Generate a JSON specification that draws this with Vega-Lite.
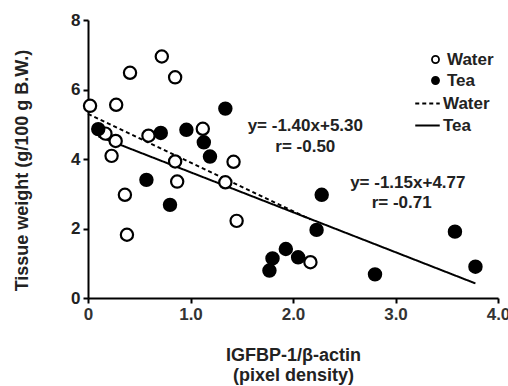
{
  "$schema": "https://vega.github.io/schema/vega-lite/v6.json",
  "width": 410,
  "height": 278,
  "autosize": {"type": "none"},
  "padding": {"left": 88, "top": 20, "right": 10, "bottom": 88},
  "background": "white",
  "config": {"view": {"stroke": null}, "font": "Liberation Sans"},
  "datasets": {
    "points": [
      {"sample": "Water", "x": 0.02, "y": 5.53},
      {"sample": "Water", "x": 0.275, "y": 5.56},
      {"sample": "Water", "x": 0.41, "y": 6.48},
      {"sample": "Water", "x": 0.72, "y": 6.95},
      {"sample": "Water", "x": 0.85, "y": 6.35},
      {"sample": "Water", "x": 0.17, "y": 4.73},
      {"sample": "Water", "x": 0.27, "y": 4.52},
      {"sample": "Water", "x": 0.23, "y": 4.09},
      {"sample": "Water", "x": 0.59, "y": 4.67},
      {"sample": "Water", "x": 1.12, "y": 4.87},
      {"sample": "Water", "x": 0.85, "y": 3.93},
      {"sample": "Water", "x": 1.42, "y": 3.92},
      {"sample": "Water", "x": 0.87, "y": 3.35},
      {"sample": "Water", "x": 1.34, "y": 3.33},
      {"sample": "Water", "x": 0.36, "y": 2.97},
      {"sample": "Water", "x": 0.38, "y": 1.82},
      {"sample": "Water", "x": 1.45, "y": 2.22},
      {"sample": "Water", "x": 2.17, "y": 1.03},
      {"sample": "Tea", "x": 0.1, "y": 4.86},
      {"sample": "Tea", "x": 0.71, "y": 4.75},
      {"sample": "Tea", "x": 0.96, "y": 4.84},
      {"sample": "Tea", "x": 1.34, "y": 5.45},
      {"sample": "Tea", "x": 1.13, "y": 4.48},
      {"sample": "Tea", "x": 1.19, "y": 4.07},
      {"sample": "Tea", "x": 0.57, "y": 3.4},
      {"sample": "Tea", "x": 0.8, "y": 2.68},
      {"sample": "Tea", "x": 2.28, "y": 2.97},
      {"sample": "Tea", "x": 2.23, "y": 1.96},
      {"sample": "Tea", "x": 1.8, "y": 1.14},
      {"sample": "Tea", "x": 1.77, "y": 0.79},
      {"sample": "Tea", "x": 1.93, "y": 1.41},
      {"sample": "Tea", "x": 2.05, "y": 1.17},
      {"sample": "Tea", "x": 2.8, "y": 0.68},
      {"sample": "Tea", "x": 3.58, "y": 1.91},
      {"sample": "Tea", "x": 3.78, "y": 0.9}
    ],
    "lines": [
      {"fit": "Water line", "x": 0, "y": 5.3},
      {"fit": "Water line", "x": 2.17, "y": 2.26},
      {"fit": "Tea line", "x": 0.1, "y": 4.655},
      {"fit": "Tea line", "x": 3.78, "y": 0.42}
    ],
    "labels": [
      {"x": 2.12, "y": 4.95, "t": "y= -1.40x+5.30"},
      {"x": 2.12, "y": 4.34, "t": "r= -0.50"},
      {"x": 3.12, "y": 3.31, "t": "y= -1.15x+4.77"},
      {"x": 3.06, "y": 2.74, "t": "r= -0.71"}
    ]
  },
  "layer": [
    {
      "data": {"name": "lines"},
      "mark": {"type": "line", "color": "black", "strokeWidth": 2},
      "encoding": {
        "x": {
          "field": "x", "type": "quantitative",
          "scale": {"domain": [0, 4], "nice": false},
          "axis": {
            "title": ["IGFBP-1/β-actin", "(pixel density)"],
            "titleFontSize": 18, "titleFontWeight": "bold", "titleColor": "#222", "titlePadding": 24, "titleLineHeight": 20,
            "values": [0, 1, 2, 3, 4],
            "labelExpr": "datum.value == 0 ? '0' : format(datum.value, '.1f')",
            "labelFontSize": 17, "labelFontWeight": "bold", "labelColor": "#333", "labelPadding": 3, "labelFlush": false,
            "domainColor": "black", "domainWidth": 2, "tickColor": "black", "tickWidth": 2, "tickSize": 5, "grid": false
          }
        },
        "y": {
          "field": "y", "type": "quantitative",
          "scale": {"domain": [0, 8], "nice": false},
          "axis": {
            "title": "Tissue weight (g/100 g B.W.)",
            "titleFontSize": 18, "titleFontWeight": "bold", "titleColor": "#222",
            "titleX": -66, "titleY": 150, "titleAlign": "center", "titleBaseline": "middle", "titleAngle": 270,
            "values": [0, 1, 2, 3, 4, 5, 6, 7, 8],
            "labelFontSize": 17, "labelFontWeight": "bold", "labelColor": "#222", "labelPadding": 3,
            "domainColor": "black", "domainWidth": 2, "tickColor": "black", "tickWidth": 2, "tickSize": 5, "grid": false
          }
        },
        "strokeDash": {
          "field": "fit", "type": "nominal",
          "scale": {"domain": ["Water line", "Tea line"], "range": [[4, 3], [1, 0]]},
          "legend": {
            "title": null, "orient": "none", "legendX": 326, "legendY": 70,
            "labelExpr": "replace(datum.label, ' line', '')",
            "symbolType": "stroke", "symbolSize": 600, "symbolStrokeColor": "black", "symbolStrokeWidth": 2, "symbolDash": [3, 2],
            "labelFont": "Liberation Sans", "labelFontSize": 17, "labelFontWeight": "bold", "labelColor": "#222",
            "labelOffset": 2, "rowPadding": 0, "padding": 0
          }
        }
      }
    },
    {
      "data": {"name": "points"},
      "mark": {"type": "circle", "size": 150, "stroke": "black", "strokeWidth": 2.2, "opacity": 1},
      "encoding": {
        "x": {"field": "x", "type": "quantitative"},
        "y": {"field": "y", "type": "quantitative"},
        "fill": {
          "field": "sample", "type": "nominal",
          "scale": {"domain": ["Water", "Tea"], "range": ["white", "black"]},
          "legend": {
            "title": null, "orient": "none", "legendX": 339, "legendY": 31,
            "symbolType": "circle", "symbolSize": 50, "symbolStrokeColor": "black", "symbolStrokeWidth": 1.8, "symbolOpacity": 1,
            "labelFont": "Liberation Sans", "labelFontSize": 17, "labelFontWeight": "bold", "labelColor": "#222",
            "labelOffset": 3, "rowPadding": 3, "padding": 0
          }
        }
      }
    },
    {
      "data": {"name": "labels"},
      "mark": {"type": "text", "fontWeight": "bold", "fontSize": 17, "color": "#222", "align": "center", "baseline": "middle"},
      "encoding": {
        "x": {"field": "x", "type": "quantitative"},
        "y": {"field": "y", "type": "quantitative"},
        "text": {"field": "t"}
      }
    }
  ],
  "resolve": {"legend": {"fill": "independent", "strokeDash": "independent"}}
}
